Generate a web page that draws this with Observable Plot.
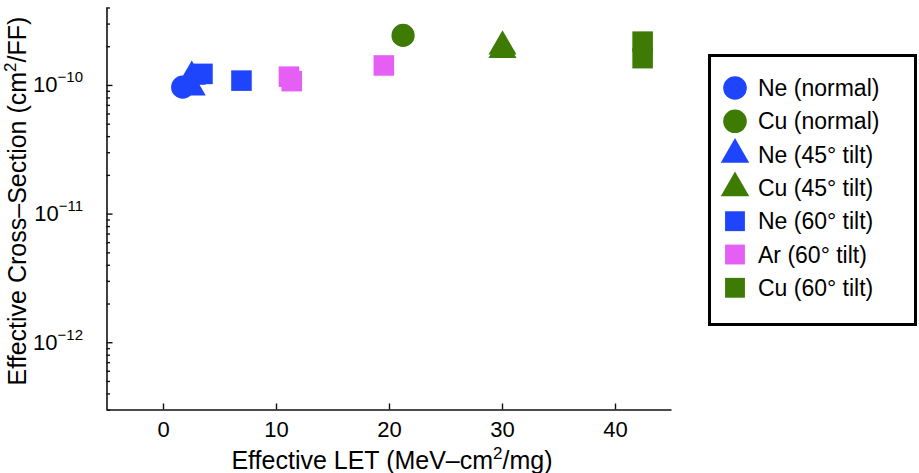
<!DOCTYPE html>
<html>
<head>
<meta charset="utf-8">
<script src="https://cdn.jsdelivr.net/npm/d3@7"></script>
<script src="https://cdn.jsdelivr.net/npm/@observablehq/plot@0.6"></script>
<style>
  html, body { margin: 0; padding: 0; background: #fff; }
  #wrap { position: relative; width: 919px; height: 473px; font-family: "Liberation Sans", Arial, Helvetica, sans-serif; }
  #legend { position: absolute; left: 708px; top: 54px; }
</style>
</head>
<body>
<div id="wrap"></div>
<script>
// ---- data ----
const seriesNames = ["Ne (normal)", "Cu (normal)", "Ne (45° tilt)", "Cu (45° tilt)", "Ne (60° tilt)", "Ar (60° tilt)", "Cu (60° tilt)"];
const seriesShapes = ["circle", "circle", "triangle", "triangle", "square", "square", "square"];
const seriesColors = ["#1f45fc", "#3e7b05", "#1f45fc", "#3e7b05", "#1f45fc", "#e65ff5", "#3e7b05"];

const pointSeries = ["Ne (normal)", "Ne (45° tilt)", "Ne (45° tilt)", "Ne (60° tilt)", "Ne (60° tilt)",
                     "Ar (60° tilt)", "Ar (60° tilt)", "Ar (60° tilt)", "Cu (normal)",
                     "Cu (45° tilt)", "Cu (45° tilt)", "Cu (60° tilt)", "Cu (60° tilt)"];
const pointLET = [1.7, 2.5, 2.5, 3.45, 6.9, 11.1, 11.35, 19.5, 21.2, 30.0, 30.0, 42.4, 42.4];
const pointXS  = [0.97e-10, 1.17e-10, 0.965e-10, 1.23e-10, 1.09e-10, 1.17e-10, 1.08e-10, 1.43e-10,
                  2.45e-10, 2.01e-10, 1.89e-10, 2.19e-10, 1.63e-10];

const xTicks = [0, 10, 20, 30, 40];
const yTicks = [1e-12, 1e-11, 1e-10];
const yTickLabels = ["10^−12", "10^−11", "10^−10"];
const xLabel = ["Effective LET (MeV–cm", "2", "/mg)"];
const yLabel = ["Effective Cross–Section (cm", "2", "/FF)"];

// ---- build table ----
const shapeOf = Object.fromEntries(seriesNames.map((s, i) => [s, seriesShapes[i]]));
const points = pointSeries.map((s, i) => ({series: s, shape: shapeOf[s], let: pointLET[i], xs: pointXS[i]}));
const yMinor = [];
for (let e = -13; e <= -10; e++) for (let k = 2; k <= 9; k++) {
  const v = k * Math.pow(10, e);
  if (v >= 3e-13 && v <= 4e-10) yMinor.push(v);
}

const W = 919, H = 473, mL = 106.5, mR = 247.5, mT = 7.5, mB = 63.5;
const fw = W - mL - mR, fh = H - mT - mB;

const plot = Plot.plot({
  width: W, height: H,
  marginLeft: mL, marginRight: mR, marginTop: mT, marginBottom: mB,
  x: {domain: [-5, 45]},
  y: {type: "log", domain: [3e-13, 4e-10]},
  symbol: {domain: seriesNames, range: seriesShapes},
  color: {domain: seriesNames, range: seriesColors},
  style: {fontFamily: '"Liberation Sans", Arial, Helvetica, sans-serif', fontSize: "22px", color: "#000", background: "#fff", overflow: "visible"},
  marks: [
    Plot.axisX({ticks: xTicks, tickSize: 0, tickPadding: 11, label: null, fontSize: 22, tickFormat: d => String(d)}),
    Plot.axisY({ticks: yTicks, tickSize: 0, tickPadding: 24, label: null, fontSize: 22, textAnchor: "end",
                tickFormat: d => yTickLabels[yTicks.indexOf(d)]}),
    Plot.ruleX(xTicks, {x: d => d, insetTop: fh - 6, stroke: "#111", strokeWidth: 1.4}),
    Plot.ruleY(yTicks, {y: d => d, insetRight: fw - 6, stroke: "#111", strokeWidth: 1.4}),
    Plot.ruleY(yMinor, {y: d => d, insetRight: fw - 3.5, stroke: "#111", strokeWidth: 1.4}),
    Plot.ruleY([3e-13], {stroke: "#111", strokeWidth: 1.6}),
    Plot.ruleX([-5], {stroke: "#111", strokeWidth: 1.6}),
    Plot.dot(points.filter(d => d.shape === "circle"), {x: "let", y: "xs", symbol: "series", fill: "series", r: 11.6}),
    Plot.dot(points.filter(d => d.shape === "triangle"), {x: "let", y: "xs", symbol: "series", fill: "series", r: 10.4}),
    Plot.dot(points.filter(d => d.shape === "square"), {x: "let", y: "xs", symbol: "series", fill: "series", r: 11.6})
  ]
});

const wrap = document.getElementById("wrap");
wrap.appendChild(plot);
const svg = d3.select(plot);

// superscript y tick labels
svg.selectAll('g[aria-label="y-axis tick label"] text').each(function() {
  const t = d3.select(this);
  const txt = t.text();
  const [base, exp] = txt.split("^");
  t.text(null);
  t.attr("text-anchor", "end");
  t.append("tspan").text(base);
  t.append("tspan").attr("dy", "-10").attr("font-size", "15px").text(exp);
});

// axis titles
function addLabel(sel, parts) {
  sel.append("tspan").text(parts[0]);
  sel.append("tspan").attr("dy", -10).attr("font-size", "17px").text(parts[1]);
  sel.append("tspan").attr("dy", 10).text(parts[2]);
}
const xl = svg.append("text").attr("x", mL + fw / 2 + 3).attr("y", 468.5)
  .attr("text-anchor", "middle").attr("font-size", "25px").attr("fill", "#000");
addLabel(xl, xLabel);
const yl = svg.append("text").attr("transform", `translate(26,201) rotate(-90)`)
  .attr("text-anchor", "middle").attr("font-size", "25px").attr("fill", "#000");
addLabel(yl, yLabel);

// legend (drawn with the same symbols/colours as the plot)
const lw = 209, lh = 272;
const leg = d3.select(wrap).append("svg").attr("id", "legend").attr("width", lw).attr("height", lh)
  .style("font-family", '"Liberation Sans", Arial, Helvetica, sans-serif');
leg.append("rect").attr("x", 1.5).attr("y", 1.5).attr("width", lw - 3).attr("height", lh - 3)
  .attr("fill", "#fff").attr("stroke", "#000").attr("stroke-width", 3);
const symMap = {circle: d3.symbolCircle, triangle: d3.symbolTriangle, square: d3.symbolSquare};
const symR = {circle: 11.8, triangle: 10.6, square: 11.2};
seriesNames.forEach((name, i) => {
  const cy = 34 + i * 33.3;
  const sh = seriesShapes[i];
  leg.append("path")
    .attr("transform", `translate(27,${cy})`)
    .attr("d", d3.symbol(symMap[sh], Math.PI * symR[sh] * symR[sh])())
    .attr("fill", seriesColors[i]);
  leg.append("text").attr("x", 50).attr("y", cy).attr("dy", "0.35em")
    .attr("font-size", "23px").attr("fill", "#000").text(name);
});
</script>
</body>
</html>
